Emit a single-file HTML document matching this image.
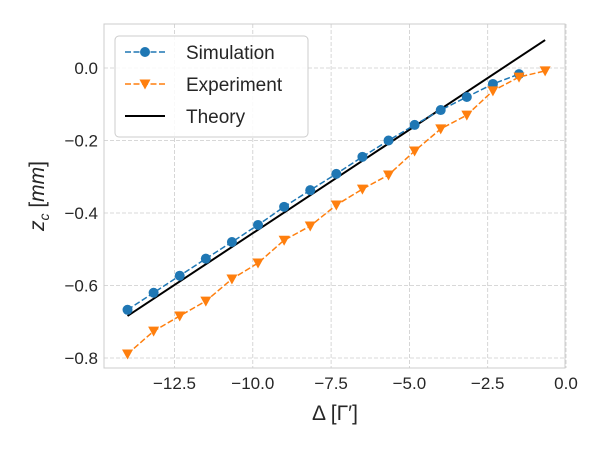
<!DOCTYPE html>
<html><head><meta charset="utf-8"><style>
body{margin:0;background:#fff;font-family:"Liberation Sans","DejaVu Sans",sans-serif}
</style></head><body>
<svg id="chart" width="600" height="450" xmlns="http://www.w3.org/2000/svg"></svg>
<script>
const simX=[-14,-13.1667,-12.3333,-11.5,-10.6667,-9.8333,-9,-8.1667,-7.3333,-6.5,-5.6667,-4.8333,-4,-3.1667,-2.3333,-1.5];
const simY=[-0.667,-0.62,-0.573,-0.526,-0.48,-0.433,-0.383,-0.337,-0.292,-0.245,-0.2,-0.157,-0.116,-0.08,-0.044,-0.017];
const expX=[-14,-13.1667,-12.3333,-11.5,-10.6667,-9.8333,-9,-8.1667,-7.3333,-6.5,-5.6667,-4.8333,-4,-3.1667,-2.3333,-1.5,-0.6667];
const expY=[-0.789,-0.726,-0.684,-0.643,-0.582,-0.538,-0.475,-0.436,-0.378,-0.334,-0.295,-0.229,-0.168,-0.13,-0.063,-0.025,-0.008];
const theoryX=[-14,-0.6667];
const theoryY=[-0.684,0.077];
const xTicks=[-12.5,-10,-7.5,-5,-2.5,0];
const xTickLabels=["−12.5","−10.0","−7.5","−5.0","−2.5","0.0"];
const yTicks=[0,-0.2,-0.4,-0.6,-0.8];
const yTickLabels=["0.0","−0.2","−0.4","−0.6","−0.8"];

const L=104,R=565,T=24,B=368;
const sx=v=>566+v*31.32;
const sy=v=>68-v*362.5;
const svg=document.getElementById('chart');
const NS='http://www.w3.org/2000/svg';
function mk(tag,attrs,parent){const e=document.createElementNS(NS,tag);for(const k in attrs)e.setAttribute(k,attrs[k]);(parent||svg).appendChild(e);return e;}

const grid=mk('g',{});


xTicks.forEach((t,i)=>{
  mk('line',{x1:sx(t),x2:sx(t),y1:T,y2:B,stroke:'#ccc','stroke-dasharray':'4,2','stroke-width':0.8},grid);
  const tx=mk('text',{x:sx(t),y:B+21,'text-anchor':'middle','font-size':17,fill:'#262626'});
  tx.textContent=xTickLabels[i];
  
  
});
yTicks.forEach((t,i)=>{
  mk('line',{x1:L,x2:R,y1:sy(t),y2:sy(t),stroke:'#ccc','stroke-dasharray':'4,2','stroke-width':0.8},grid);
  const tx=mk('text',{x:L-6,y:sy(t)+6,'text-anchor':'end','font-size':17,fill:'#262626'});
  tx.textContent=yTickLabels[i];
  
  
});
const frame=mk('rect',{x:L,y:T,width:R-L,height:B-T,fill:'none',stroke:'#ccc','stroke-width':1});



function pts(xs,ys){return xs.map((x,i)=>sx(x)+','+sy(ys[i])).join(' ');}
const th=mk('polyline',{points:pts(theoryX,theoryY),fill:'none',stroke:'#000','stroke-width':2});


const sl=mk('polyline',{points:pts(simX,simY),fill:'none',stroke:'#1f77b4','stroke-width':1.5,'stroke-dasharray':'6,2.5'});


simX.forEach((x,i)=>{
  const c=mk('circle',{cx:sx(x),cy:sy(simY[i]),r:5,fill:'#1f77b4'});
  
  
});
const el=mk('polyline',{points:pts(expX,expY),fill:'none',stroke:'#ff7f0e','stroke-width':1.5,'stroke-dasharray':'6,2.5'});


function tri(cx,cy,p){return mk('polygon',{points:`${cx-5.5},${cy-4.5} ${cx+5.5},${cy-4.5} ${cx},${cy+5.5}`,fill:'#ff7f0e'},p);}
expX.forEach((x,i)=>{
  const t=tri(sx(x),sy(expY[i]));
  
  
});

// legend
const lg=mk('g',{});


mk('rect',{x:115,y:36,width:193,height:101,rx:4,fill:'#fff','fill-opacity':0.85,stroke:'#ccc'},lg);
mk('line',{x1:125,x2:165,y1:52,y2:52,stroke:'#1f77b4','stroke-width':1.5,'stroke-dasharray':'6,2.5'},lg);
mk('circle',{cx:145,cy:52,r:5,fill:'#1f77b4'},lg);
mk('line',{x1:125,x2:165,y1:84,y2:84,stroke:'#ff7f0e','stroke-width':1.5,'stroke-dasharray':'6,2.5'},lg);
tri(145,84,lg);
mk('line',{x1:125,x2:165,y1:116,y2:116,stroke:'#000','stroke-width':2},lg);
[['Simulation',59],['Experiment',91],['Theory',123]].forEach(([s,y])=>{
  const t=mk('text',{x:186,y:y,'font-size':19,fill:'#262626'},lg);t.textContent=s;
  
  
});

const xt=mk('text',{x:335,y:420,'text-anchor':'middle','font-size':21,fill:'#262626'});
xt.textContent="Δ [Γ′]";


const yt=mk('text',{x:0,y:0,'text-anchor':'middle','font-size':21,fill:'#262626',transform:'translate(44,196) rotate(-90)'});
yt.innerHTML='<tspan font-style="italic">z</tspan><tspan font-style="italic" font-size="14" dy="5">c</tspan><tspan dy="-5"> [</tspan><tspan font-style="italic">mm</tspan><tspan>]</tspan>';


</script>
</body></html>
